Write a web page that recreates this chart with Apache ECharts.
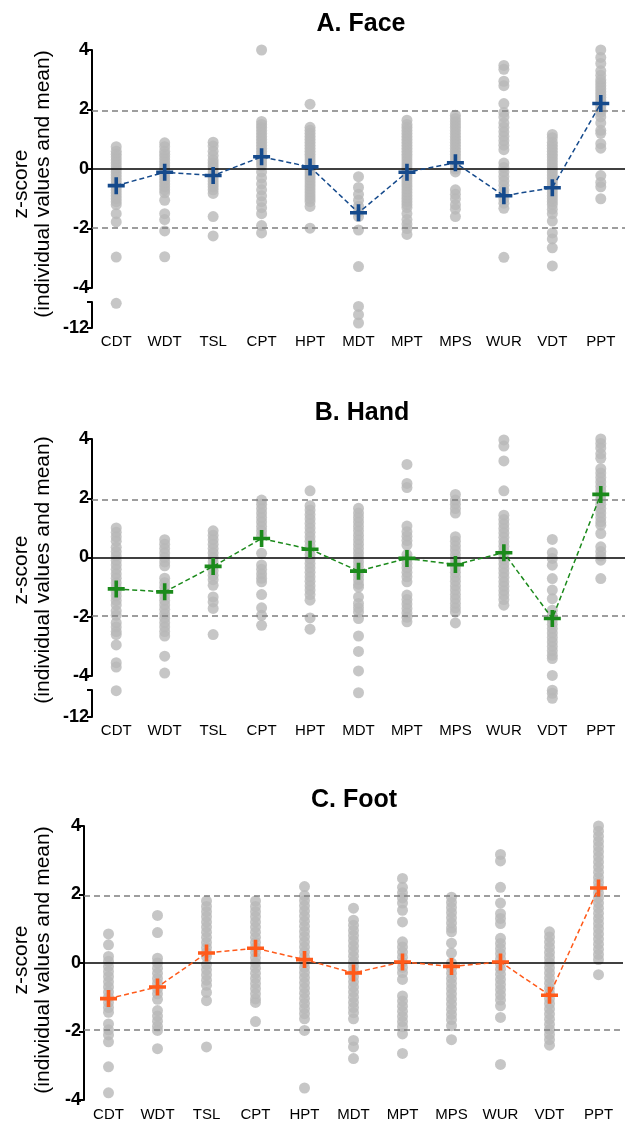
<!DOCTYPE html>
<html><head><meta charset="utf-8">
<script src="https://cdn.jsdelivr.net/npm/echarts@6/dist/echarts.min.js"></script>
<style>html,body{margin:0;padding:0;background:#fff}#c{width:625px;height:1122px}</style>
</head><body><div id="c"></div>
<script>
const categories = ['CDT','WDT','TSL','CPT','HPT','MDT','MPT','MPS','WUR','VDT','PPT'];
const mainTicks = { min: -4, max: 4, interval: 2 };
const brokenTicks = { min: -12, max: -4.5, interval: 7.5 };
const limitLines = [1.96, -1.96];

// A. Face – individual z-scores per test
const faceCDT = [0.75,0.6,0.5,0.4,0.3,0.2,0.1,0.0,-0.1,-0.2,-0.3,-0.4,-0.5,-0.6,-0.7,-0.8,-0.9,-1.0,-1.1,-1.2,-1.5,-1.78,-2.96,-4.87];
const faceWDT = [0.88,0.75,0.6,0.5,0.4,0.3,0.2,0.1,0.0,-0.1,-0.2,-0.3,-0.4,-0.5,-0.6,-0.7,-0.8,-1.05,-1.5,-1.7,-2.08,-2.95];
const faceTSL = [0.9,0.77,0.6,0.45,0.3,0.2,0.1,0.0,-0.1,-0.2,-0.3,-0.4,-0.5,-0.6,-0.7,-0.82,-1.6,-2.25];
const faceCPT = [4.0,1.6,1.5,1.4,1.3,1.2,1.1,1.0,0.9,0.8,0.7,0.6,0.5,0.4,0.3,0.2,0.1,-0.1,-0.3,-0.5,-0.7,-0.9,-1.1,-1.3,-1.5,-1.9,-2.15];
const faceHPT = [2.18,1.4,1.3,1.2,1.1,1.0,0.9,0.8,0.7,0.6,0.5,0.4,0.3,0.2,0.1,0.0,-0.1,-0.2,-0.3,-0.4,-0.5,-0.6,-0.7,-0.8,-0.9,-1.0,-1.1,-1.26,-1.99];
const faceMDT = [-0.26,-0.62,-0.85,-1.05,-1.25,-1.45,-1.6,-2.05,-3.28,-5.77,-8.17,-10.56];
const faceMPT = [1.64,1.5,1.4,1.3,1.2,1.1,1.0,0.9,0.8,0.7,0.6,0.5,0.4,0.3,0.2,0.1,0.0,-0.1,-0.2,-0.3,-0.4,-0.5,-0.6,-0.7,-0.8,-0.9,-1.0,-1.1,-1.2,-1.3,-1.5,-1.7,-1.85,-2.0,-2.2];
const faceMPS = [1.81,1.7,1.6,1.5,1.4,1.3,1.2,1.1,1.0,0.9,0.8,0.7,0.6,0.5,0.4,0.3,0.2,0.1,0.0,-0.1,-0.7,-0.85,-1.0,-1.2,-1.35,-1.6];
const faceWUR = [3.48,3.35,2.95,2.8,2.2,1.9,1.75,1.55,1.4,1.25,1.1,0.95,0.8,0.65,0.2,0.05,-0.1,-0.25,-0.4,-0.55,-0.7,-0.85,-1.0,-1.15,-1.32,-2.97];
const faceVDT = [1.16,1.05,0.9,0.8,0.7,0.6,0.5,0.4,0.3,0.2,0.1,0.0,-0.1,-0.2,-0.3,-0.4,-0.5,-0.6,-0.7,-0.8,-0.9,-1.0,-1.1,-1.2,-1.35,-1.5,-1.75,-2.15,-2.35,-2.65,-3.26];
const facePPT = [4.0,3.75,3.55,3.3,3.15,3.0,2.9,2.8,2.7,2.6,2.5,2.4,2.3,2.2,2.1,2.0,1.9,1.75,1.55,1.3,1.2,0.85,0.7,-0.22,-0.45,-0.6,-1.0];
const faceMeans = [-0.56,-0.11,-0.22,0.41,0.07,-1.47,-0.11,0.21,-0.9,-0.63,2.2];

// B. Hand
const handCDT = [1.0,0.85,0.7,0.55,0.35,0.2,0.05,-0.1,-0.25,-0.4,-0.55,-0.7,-0.85,-1.0,-1.15,-1.3,-1.45,-1.6,-1.8,-1.95,-2.2,-2.35,-2.5,-2.6,-2.95,-3.55,-3.7,-4.7];
const handWDT = [0.6,0.45,0.3,0.15,0.0,-0.15,-0.28,-0.7,-0.85,-1.0,-1.15,-1.3,-1.45,-1.6,-1.75,-1.9,-2.05,-2.2,-2.35,-2.5,-2.65,-3.33,-3.9];
const handTSL = [0.9,0.75,0.6,0.45,0.3,0.15,0.0,-0.15,-0.3,-0.45,-0.6,-0.75,-0.94,-1.33,-1.5,-1.72,-2.6];
const handCPT = [1.94,1.8,1.65,1.5,1.35,1.2,1.05,0.9,0.75,0.14,-0.25,-0.4,-0.55,-0.7,-0.82,-1.25,-1.7,-1.95,-2.29];
const handHPT = [2.25,1.75,1.6,1.45,1.3,1.15,1.0,0.85,0.7,0.55,0.4,0.25,0.1,-0.05,-0.2,-0.35,-0.5,-0.65,-0.8,-0.95,-1.1,-1.25,-1.44,-2.04,-2.42];
const handMDT = [1.66,1.5,1.35,1.2,1.05,0.9,0.75,0.6,0.45,0.3,0.15,0.0,-0.15,-0.3,-0.45,-0.6,-0.75,-0.9,-1.0,-1.33,-1.55,-1.7,-1.84,-2.06,-2.65,-3.17,-3.83,-5.26];
const handMPT = [3.14,2.5,2.36,1.06,0.87,0.72,0.57,0.42,0.1,-0.05,-0.2,-0.35,-0.5,-0.65,-0.82,-1.27,-1.42,-1.57,-1.72,-1.87,-2.02,-2.17];
const handMPS = [2.13,1.94,1.8,1.65,1.5,0.7,0.55,0.4,0.25,0.1,-0.05,-0.2,-0.35,-0.5,-0.65,-0.8,-0.95,-1.1,-1.25,-1.4,-1.55,-1.7,-1.84,-2.21];
const handWUR = [3.97,3.76,3.26,2.25,1.43,1.28,1.13,0.98,0.83,0.68,0.53,0.38,0.23,0.08,-0.07,-0.22,-0.37,-0.52,-0.67,-0.82,-0.97,-1.12,-1.27,-1.42,-1.61];
const handVDT = [0.61,0.16,-0.03,-0.26,-0.71,-1.1,-1.39,-1.78,-1.95,-2.1,-2.25,-2.4,-2.55,-2.7,-2.85,-3.0,-3.15,-3.3,-3.41,-3.98,-4.55,-5.4,-6.8];
const handPPT = [4.0,3.85,3.7,3.5,3.35,3.0,2.85,2.7,2.55,2.4,2.25,2.1,1.95,1.8,1.65,1.5,1.35,1.2,1.09,0.81,0.36,0.2,0.05,-0.09,-0.71];
const handMeans = [-1.06,-1.16,-0.3,0.64,0.28,-0.46,-0.03,-0.24,0.16,-2.06,2.13];

// C. Foot
const footCDT = [0.85,0.53,0.19,0.05,-0.1,-0.25,-0.4,-0.55,-0.7,-0.85,-1.0,-1.15,-1.3,-1.44,-1.78,-1.95,-2.1,-2.3,-3.03,-3.79];
const footWDT = [1.39,0.89,0.14,0.0,-0.15,-0.3,-0.45,-0.6,-0.75,-0.9,-1.06,-1.39,-1.55,-1.7,-1.85,-1.97,-2.5];
const footTSL = [1.81,1.65,1.5,1.35,1.2,1.05,0.9,0.75,0.6,0.45,0.3,0.19,-0.05,-0.2,-0.35,-0.5,-0.65,-0.86,-1.1,-2.45];
const footCPT = [1.81,1.65,1.5,1.35,1.2,1.05,0.9,0.75,0.6,0.45,0.3,0.15,0.0,-0.15,-0.3,-0.45,-0.6,-0.75,-0.9,-1.05,-1.15,-1.71];
const footHPT = [2.23,1.97,1.82,1.67,1.52,1.37,1.22,1.07,0.92,0.77,0.62,0.47,0.32,0.17,0.02,-0.13,-0.28,-0.43,-0.58,-0.73,-0.88,-1.03,-1.18,-1.33,-1.48,-1.63,-1.97,-3.65];
const footMDT = [1.6,1.25,1.1,0.95,0.8,0.65,0.5,0.35,0.2,0.05,-0.1,-0.25,-0.4,-0.55,-0.7,-0.85,-1.0,-1.15,-1.3,-1.45,-1.63,-2.26,-2.45,-2.79];
const footMPT = [2.47,2.21,2.05,1.9,1.75,1.54,1.2,0.62,0.47,0.32,0.17,0.02,-0.13,-0.28,-0.48,-0.96,-1.11,-1.26,-1.41,-1.56,-1.71,-1.86,-2.07,-2.64];
const footMPS = [1.92,1.77,1.62,1.47,1.32,1.17,1.02,0.91,0.58,0.29,0.0,-0.15,-0.3,-0.45,-0.6,-0.75,-0.9,-1.05,-1.2,-1.35,-1.5,-1.65,-1.83,-2.24];
const footWUR = [3.17,2.98,2.21,1.75,1.44,1.3,1.15,0.72,0.57,0.42,0.27,0.12,-0.03,-0.18,-0.33,-0.48,-0.63,-0.78,-0.93,-1.08,-1.25,-1.59,-2.96];
const footVDT = [0.91,0.76,0.61,0.46,0.31,0.16,0.01,-0.14,-0.29,-0.44,-0.59,-0.74,-0.89,-1.04,-1.19,-1.34,-1.49,-1.64,-1.79,-1.94,-2.09,-2.24,-2.4];
const footPPT = [4.0,3.85,3.7,3.55,3.4,3.25,3.1,2.95,2.8,2.65,2.5,2.35,2.2,2.05,1.9,1.75,1.6,1.45,1.3,1.15,1.0,0.85,0.7,0.55,0.4,0.25,0.1,-0.34];
const footMeans = [-1.04,-0.7,0.29,0.43,0.1,-0.29,0.03,-0.1,0.03,-0.94,2.19];

const faceValues = [faceCDT,faceWDT,faceTSL,faceCPT,faceHPT,faceMDT,faceMPT,faceMPS,faceWUR,faceVDT,facePPT];
const handValues = [handCDT,handWDT,handTSL,handCPT,handHPT,handMDT,handMPT,handMPS,handWUR,handVDT,handPPT];
const footValues = [footCDT,footWDT,footTSL,footCPT,footHPT,footMDT,footMPT,footMPS,footWUR,footVDT,footPPT];

const FONT = '"Liberation Sans", Arial, Helvetica, sans-serif';
const plusPath = 'path://M6.3,0H9.7V6.3H16V9.7H9.7V16H6.3V9.7H0V6.3H6.3Z';

const panels = [
  { title: 'A. Face', values: faceValues, means: faceMeans, color: '#154a8c',
    left: 92, top: 50, height: 238, low: { top: 302, height: 26 }, tx: 361, ty: 24, ny: 184 },
  { title: 'B. Hand', values: handValues, means: handMeans, color: '#1b8a1b',
    left: 92, top: 439, height: 237, low: { top: 690, height: 27 }, tx: 362, ty: 413, ny: 570 },
  { title: 'C. Foot', values: footValues, means: footMeans, color: '#ff5a1a',
    left: 84, top: 826, height: 277, low: null, tx: 354, ty: 800, ny: 960 }
];

const grid = [], xAxis = [], yAxis = [], series = [], graphic = [];
const axisLineStyle = { color: '#000', width: 2 };

panels.forEach(p => {
  const gi = grid.length;
  grid.push({ left: p.left, top: p.top, width: 539, height: p.height });
  xAxis.push({ gridIndex: gi, type: 'category', data: categories, boundaryGap: true,
    axisLine: { show: false }, axisTick: { show: false },
    axisLabel: { show: !p.low, color: '#000', fontSize: 15, fontFamily: FONT, margin: 7 } });
  yAxis.push({ gridIndex: gi, type: 'value', min: mainTicks.min, max: mainTicks.max, interval: mainTicks.interval,
    axisLine: { show: true, lineStyle: axisLineStyle },
    axisTick: { show: true, length: 5, lineStyle: axisLineStyle },
    axisLabel: { color: '#000', fontSize: 18, fontWeight: 'bold', fontFamily: FONT, margin: 3 },
    splitLine: { show: false } });

  // reference lines (behind the dots)
  series.push({ type: 'scatter', xAxisIndex: gi, yAxisIndex: gi, data: [], z: 1, silent: true,
    markLine: { silent: true, symbol: ['none', 'none'], label: { show: false }, animation: false,
      data: [
        { yAxis: 0, lineStyle: { color: '#000', width: 1.5, type: 'solid' } },
        ...limitLines.map(v => ({ yAxis: v, lineStyle: { color: '#7f7f7f', width: 1.5, type: [6, 4] } }))
      ] } });

  const mainPts = [], lowPts = [];
  p.values.forEach((arr, i) => arr.forEach(v => {
    if (p.low && v < -4.25) lowPts.push([i, v]); else mainPts.push([i, v]);
  }));
  series.push({ type: 'scatter', xAxisIndex: gi, yAxisIndex: gi, data: mainPts, symbolSize: 11,
    itemStyle: { color: '#b8b8b8' }, z: 3, clip: false, silent: true });
  series.push({ type: 'line', xAxisIndex: gi, yAxisIndex: gi, data: p.means,
    symbol: plusPath, symbolSize: 17, showSymbol: true, z: 5,
    lineStyle: { color: p.color, width: 1.5, type: [5, 3] },
    itemStyle: { color: p.color, borderWidth: 0 }, silent: true });

  if (p.low) {
    const li = grid.length;
    grid.push({ left: p.left, top: p.low.top, width: 539, height: p.low.height });
    xAxis.push({ gridIndex: li, type: 'category', data: categories, boundaryGap: true,
      axisLine: { show: false }, axisTick: { show: false },
      axisLabel: { show: true, color: '#000', fontSize: 15, fontFamily: FONT, margin: 6 } });
    yAxis.push({ gridIndex: li, type: 'value', min: brokenTicks.min, max: brokenTicks.max, interval: brokenTicks.interval,
      axisLine: { show: true, lineStyle: axisLineStyle },
      axisTick: { show: true, length: 5, lineStyle: axisLineStyle },
      axisLabel: { color: '#000', fontSize: 18, fontWeight: 'bold', fontFamily: FONT, margin: 3,
        formatter: v => (v === brokenTicks.min ? String(v) : '') },
      splitLine: { show: false } });
    series.push({ type: 'scatter', xAxisIndex: li, yAxisIndex: li, data: lowPts, symbolSize: 11,
      itemStyle: { color: '#b8b8b8' }, z: 3, clip: false, silent: true });
  }

  graphic.push({ type: 'text', x: p.tx, y: p.ty, silent: true,
    style: { text: p.title, font: 'bold 25px ' + FONT, fill: '#000', textAlign: 'center', textVerticalAlign: 'middle' } });
  graphic.push({ type: 'text', x: 32, y: p.ny, rotation: Math.PI / 2, silent: true,
    style: { text: 'z-score\n(individual values and mean)', font: '21px ' + FONT, lineHeight: 22,
      fill: '#000', textAlign: 'center', textVerticalAlign: 'middle' } });
});

const chart = echarts.init(document.getElementById('c'), null, { renderer: 'canvas' });
chart.setOption({ animation: false, backgroundColor: '#fff', grid, xAxis, yAxis, series, graphic });
</script></body></html>
